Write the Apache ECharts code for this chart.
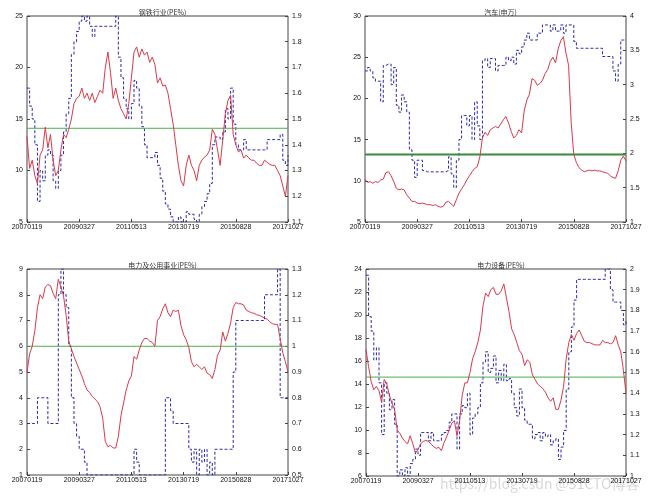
<!DOCTYPE html>
<html><head><meta charset="utf-8">
<script src="https://cdn.jsdelivr.net/npm/echarts@6/dist/echarts.min.js"></script>
<style>html,body{margin:0;padding:0;background:#fff}#c{width:659px;height:503px}</style>
</head><body><div id="c"></div>
<script>
const xTickLabels = ['20070119','20090327','20110513','20130719','20150828','20171027'];
const titles = ['钢铁行业(PE%)','汽车(申万)','电力及公用事业(PE%)','电力设备(PE%)'];

const p1Red = [13.3,10.2,11,9.5,8.7,11.5,12,14.2,12.2,13.5,11,9.5,10,12,13.5,13.2,14,15,16.5,17,17.2,18,17,17.5,16.8,17.5,16.6,17.2,17.8,17.5,20,21.5,19.5,17,18,16.8,16,15.5,15,16.5,19,21.5,22,21,21.8,21.2,21.5,20.5,21,20.3,18.5,19,18.2,18.3,17.5,16,14.5,12.5,10.5,9,8.5,10.5,11.5,10.5,10,9,10.5,11,11.3,11.5,12,14,13.5,12,10.5,13,15.5,16.8,17.3,13.5,12.5,11.8,12,11.2,11.5,11.2,11,11,10.7,10.5,10.5,11,10.8,10.6,10.5,10.5,10,9.5,8.5,7.5,9.5];
const p1Blue = [1.62,1.55,1.5,1.4,1.18,1.3,1.26,1.36,1.38,1.36,1.26,1.23,1.3,1.36,1.45,1.52,1.58,1.75,1.8,1.84,1.88,1.9,1.88,1.9,1.86,1.82,1.86,1.86,1.86,1.86,1.86,1.86,1.86,1.86,1.9,1.74,1.66,1.58,1.54,1.5,1.56,1.65,1.62,1.55,1.47,1.4,1.35,1.35,1.35,1.37,1.32,1.27,1.22,1.17,1.15,1.12,1.1,1.1,1.12,1.1,1.1,1.14,1.13,1.13,1.11,1.1,1.13,1.16,1.18,1.21,1.25,1.4,1.43,1.43,1.42,1.45,1.54,1.5,1.62,1.48,1.4,1.38,1.38,1.42,1.38,1.38,1.38,1.38,1.38,1.38,1.38,1.38,1.42,1.42,1.42,1.42,1.42,1.44,1.34,1.32,1.36];
const p2Red = [10.2,9.8,9.9,9.7,9.9,9.8,10.1,10.2,11,11.1,10.6,9.9,9.1,8.9,9,8.9,8.3,7.9,7.5,7.5,7.3,7.2,7.3,7.2,7.1,7.1,7.0,7.1,6.9,6.8,6.9,7.4,7.5,7.2,6.9,7.7,8.5,9.0,9.5,10.1,10.6,11.1,11.5,11.7,12.9,15.2,15.9,15.5,16.2,16.4,16.6,16.4,16.9,17.4,17.8,17,16,15.2,15.5,16.2,15.8,18.5,19.8,20.5,22.4,22.2,21.6,21.8,22.2,23,23.5,24.5,25,24.3,26,27,27.5,25.5,24,17,13.2,12.2,11.6,11.3,11.1,11.2,11.3,11.2,11.3,11.2,11.2,11.1,11.0,10.9,10.6,10.4,10.3,11.2,12.5,13,12.4];
const p2Blue = [3.2,3.25,3.2,3.1,3.05,3.05,2.75,3.28,3.3,3.3,3.0,3.25,2.7,2.6,2.85,2.75,2.6,2.05,1.9,1.65,1.9,1.9,1.75,1.73,1.73,1.73,1.73,1.73,1.73,1.73,1.73,1.75,1.95,1.7,1.5,1.9,2.2,2.55,2.55,2.4,2.55,2.2,2.75,2.4,2.2,3.35,3.38,3.25,3.38,3.38,3.2,3.28,3.28,3.28,3.4,3.35,3.4,3.3,3.5,3.45,3.55,3.65,3.75,3.65,3.65,3.65,3.75,3.75,3.87,3.87,3.87,3.78,3.87,3.78,3.78,3.87,3.75,3.87,3.87,3.87,3.63,3.53,3.53,3.53,3.53,3.53,3.53,3.53,3.53,3.53,3.53,3.41,3.41,3.41,3.41,3.2,3.05,3.3,3.65,3.65,3.65];
const p3Red = [5.0,5.7,6.0,6.6,7.5,8.0,7.85,8.3,8.4,8.35,8.05,7.85,8.6,8.3,7.95,7.2,6.2,5.9,5.6,5.35,5.1,4.85,4.55,4.3,4.2,4.05,3.95,3.85,3.65,3.2,2.3,2.1,2.15,2.05,2.05,2.5,3.3,3.8,4.3,4.65,4.85,5.6,5.5,5.85,6.15,6.3,6.3,6.2,6.15,6.0,7.0,7.15,7.45,7.65,7.3,7.15,7.4,7.35,7.4,6.8,6.45,6.25,5.95,5.4,5.2,5.3,5.2,5.1,5.2,4.95,4.9,4.75,5.1,5.65,5.85,6.55,6.2,6.5,6.9,7.5,7.7,7.65,7.65,7.6,7.4,7.35,7.3,7.28,7.22,7.2,7.15,7.1,7.05,6.95,6.88,6.85,6.85,6.3,5.75,5.4,5.0];
const p3Blue = [0.7,0.7,0.7,0.7,0.8,0.8,0.8,0.8,0.7,0.7,0.7,0.7,1.2,1.3,1.2,1.15,1.0,0.8,0.7,0.65,0.6,0.6,0.55,0.5,0.5,0.5,0.5,0.5,0.5,0.5,0.5,0.5,0.5,0.5,0.5,0.5,0.5,0.5,0.5,0.5,0.5,0.6,0.55,0.5,0.5,0.5,0.5,0.5,0.5,0.5,0.5,0.5,0.5,0.8,0.8,0.75,0.7,0.7,0.7,0.7,0.7,0.7,0.6,0.55,0.6,0.5,0.6,0.55,0.6,0.5,0.55,0.5,0.6,0.6,0.6,0.6,0.6,0.6,0.6,0.9,1.1,1.1,1.1,1.1,1.1,1.1,1.1,1.1,1.1,1.1,1.1,1.2,1.2,1.2,1.2,1.2,1.3,0.8,0.8,0.8,0.8];
const p4Red = [17,15.5,14.2,13.5,13.8,13.4,12.4,14.4,14,13,12.3,11.8,10,9.7,9.3,9.0,8.8,9.5,8.8,8.0,8.3,8.8,9.0,9.1,9.0,8.8,8.55,8.4,8.5,8.2,8.9,9.4,10.0,10.6,10.8,9.5,10.8,13,14.1,14.1,15,16.2,16.8,17.6,18.7,20.8,21.9,21.6,22.2,22.4,21.8,21.8,22.1,22.7,21.5,20.3,18.8,18.3,17.6,16.9,16.6,15.6,16.1,15.9,14.8,14.4,14.0,13.8,13.6,13.3,12.8,12.5,12.8,11.8,11.8,12.6,13.8,16.2,17.6,18.3,17.8,18.4,18.7,18.2,17.7,17.6,17.6,17.5,17.4,17.4,17.4,17.8,17.6,17.6,17.5,17.6,18.2,17.4,16.8,15.2,13.2];
const p4Blue = [1.97,1.77,1.7,1.56,1.62,1.45,1.2,1.45,1.4,1.32,1.37,1.25,1.0,1.03,1.0,1.04,1.0,1.06,1.08,1.13,1.1,1.21,1.21,1.21,1.17,1.21,1.17,1.17,1.17,1.2,1.21,1.22,1.26,1.3,1.3,1.13,1.3,1.34,1.33,1.4,1.2,1.28,1.3,1.33,1.45,1.55,1.6,1.5,1.52,1.58,1.45,1.51,1.46,1.54,1.46,1.47,1.4,1.33,1.29,1.42,1.33,1.27,1.25,1.25,1.18,1.2,1.21,1.17,1.21,1.19,1.2,1.15,1.17,1.18,1.08,1.14,1.22,1.42,1.6,1.72,1.85,1.95,1.95,1.95,1.95,1.95,1.95,1.95,1.95,1.95,1.95,1.95,2.0,2.0,1.9,1.84,1.84,1.84,1.8,1.73,1.75];
const greenLevels = [14.1, 13.2, 6.0, 14.6];

const panels = [
  {red:p1Red, blue:p1Blue, left:[5,25,5], right:[1.1,1.9,0.1], grid:{left:27,top:16,width:261,height:206}, gw:1, gc:'#4cae4c'},
  {red:p2Red, blue:p2Blue, left:[5,30,5], right:[1,4,0.5], grid:{left:365,top:16,width:261,height:206}, gw:2, gc:'#3d8a3d'},
  {red:p3Red, blue:p3Blue, left:[1,9,1], right:[0.5,1.3,0.1], grid:{left:27,top:269,width:261,height:206}, gw:1, gc:'#4cae4c'},
  {red:p4Red, blue:p4Blue, left:[6,24,2], right:[1,2,0.1], grid:{left:366,top:269,width:260,height:207}, gw:1, gc:'#4cae4c'}
];

const lab = {fontSize:7, color:'#111', fontFamily:'Liberation Sans'};
const tick = {inside:true, length:3, lineStyle:{color:'#444'}};
const option = {
  backgroundColor:'#fff',
  animation:false,
  title: panels.map((p,k)=>({text:titles[k], left:p.grid.left+p.grid.width/2, top:p.grid.top-12, textAlign:'center',
     textStyle:{fontSize:7, fontWeight:'normal', color:'#333', fontFamily:'Noto Sans CJK SC'}})),
  grid: panels.map(p=>Object.assign({show:true, borderColor:'#444', borderWidth:1, backgroundColor:'#fff'}, p.grid)),
  xAxis: panels.map((p,k)=>({type:'value', gridIndex:k, min:0, max:100, interval:20,
     axisLine:{show:false}, splitLine:{show:false}, axisTick:tick,
     axisLabel:Object.assign({margin:2, formatter:v=>xTickLabels[Math.round(v/20)]}, lab)})),
  yAxis: [].concat(...panels.map((p,k)=>[
     {type:'value', gridIndex:k, position:'left', min:p.left[0], max:p.left[1], interval:p.left[2],
      axisLine:{show:false}, splitLine:{show:false}, axisTick:tick,
      axisLabel:Object.assign({margin:4}, lab)},
     {type:'value', gridIndex:k, position:'right', min:p.right[0], max:p.right[1], interval:p.right[2],
      axisLine:{show:false}, splitLine:{show:false}, axisTick:tick,
      axisLabel:Object.assign({margin:4, formatter:v=>String(+v.toFixed(2))}, lab)}
  ])),
  series: [].concat(...panels.map((p,k)=>[
     {type:'line', xAxisIndex:k, yAxisIndex:2*k+1, data:p.blue.map((v,i)=>[i,v]), step:'end', symbol:'none',
      lineStyle:{color:'#2a2aa8', width:1, type:[3,2]}, z:2},
     {type:'line', xAxisIndex:k, yAxisIndex:2*k, data:[[0,greenLevels[k]],[100,greenLevels[k]]], symbol:'none',
      lineStyle:{color:p.gc, width:p.gw}, z:2},
     {type:'line', xAxisIndex:k, yAxisIndex:2*k, data:p.red.map((v,i)=>[i,v]), symbol:'none',
      lineStyle:{color:'#d83a4a', width:1}, z:3}
  ])),
  graphic:[{type:'text', left:440, top:477, style:{text:'https://blog.csdn @51CTO博客', fontSize:14, fill:'rgba(0,0,0,0.16)', fontFamily:'Noto Sans CJK SC'}}]
};
echarts.init(document.getElementById('c')).setOption(option);
</script></body></html>
